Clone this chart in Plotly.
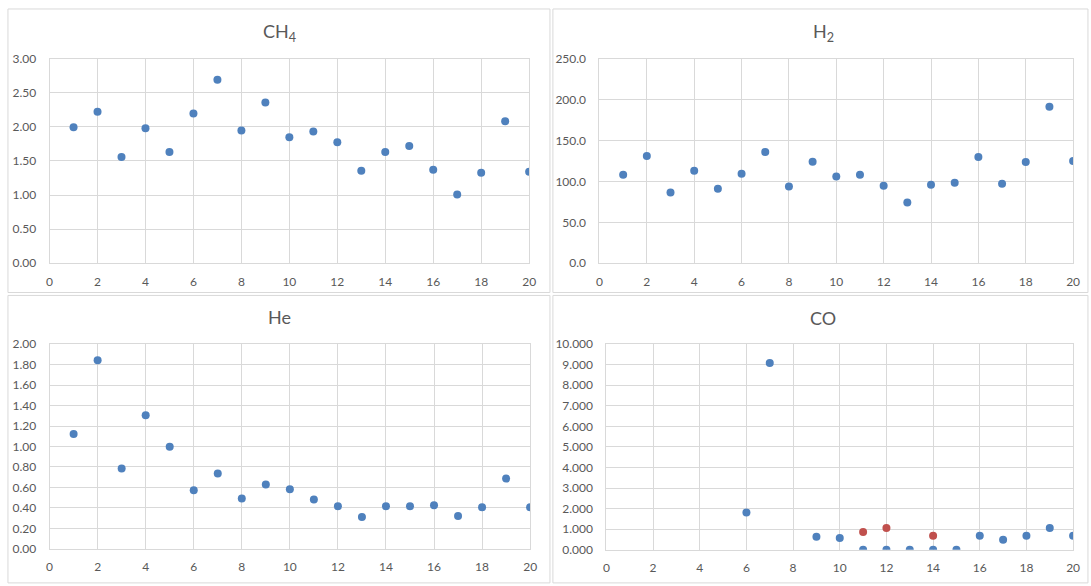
import plotly.graph_objects as go

W, H = 1091, 586

x_vals = list(range(1, 21))

ch4 = [1.995, 2.22, 1.557, 1.98, 1.633, 2.195, 2.69, 1.948, 2.357, 1.848,
       1.933, 1.776, 1.357, 1.633, 1.719, 1.371, 1.01, 1.329, 2.081, 1.343]
h2 = [108.3, 131.0, 86.5, 113.0, 91.0, 109.5, 136.0, 93.7, 124.0, 106.0,
      108.3, 94.8, 74.2, 96.0, 98.4, 129.8, 97.2, 123.8, 191.3, 125.0]
he = [1.121, 1.844, 0.784, 1.305, 0.997, 0.571, 0.737, 0.492, 0.629, 0.581,
      0.483, 0.416, 0.311, 0.416, 0.416, 0.425, 0.321, 0.406, 0.686, 0.406]
co_x = [6, 7, 9, 10, 11, 12, 13, 14, 15, 16, 17, 18, 19, 20]
co = [1.817, 9.08, 0.632, 0.569, 0.0, 0.0, 0.0, 0.0, 0.0, 0.679, 0.49, 0.679, 1.058, 0.679]
co2_x = [11, 12, 14]
co2 = [0.869, 1.058, 0.679]

titles = ["CH<sub>4</sub>", "H<sub>2</sub>", "He", "CO"]
x_ticks = list(range(0, 21, 2))

BLUE = "#4F81BD"
RED = "#C0504D"
GRID = "#D9D9D9"
TXT = "#595959"
FONT = "Lato"


def px_x(p):
    return p / W


def px_y(p):
    return 1 - p / H


fig = go.Figure()

series = [
    (x_vals, ch4, BLUE, "x", "y"),
    (x_vals, h2, BLUE, "x2", "y2"),
    (x_vals, he, BLUE, "x3", "y3"),
    (co_x, co, BLUE, "x4", "y4"),
    (co2_x, co2, RED, "x4", "y4"),
]
for xs, ys, col, xa, ya in series:
    fig.add_trace(go.Scatter(x=xs, y=ys, mode="markers", xaxis=xa, yaxis=ya,
                             marker=dict(color=col, size=8), showlegend=False))

# plot areas (pixels): left, right, top, bottom
areas = [
    (47, 531, 52, 262),
    (602, 1080, 52, 262),
    (47, 532, 345, 555),
    (609, 1080, 345, 556),
]
yranges = [(0, 3), (0, 250), (0, 2), (0, 10)]
ydtick = [0.5, 50, 0.2, 1]
yfmt = [".2f", ".1f", ".2f", ".3f"]

layout = dict(
    width=W, height=H,
    margin=dict(l=0, r=0, t=0, b=0),
    paper_bgcolor="white", plot_bgcolor="white",
    font=dict(family=FONT, size=12, color=TXT),
    showlegend=False,
)

for i, (l, r, t, b) in enumerate(areas):
    sx = "" if i == 0 else str(i + 1)
    layout["xaxis" + sx] = dict(
        domain=[px_x(l), px_x(r)], anchor="y" + sx, range=[0, 20],
        tickvals=x_ticks, showgrid=True, gridcolor=GRID, gridwidth=1,
        zeroline=False, showline=True, linecolor=GRID, mirror=True,
        ticks="", tickfont=dict(size=12, color=TXT), ticklabelstandoff=7,
        fixedrange=True,
    )
    layout["yaxis" + sx] = dict(
        domain=[px_y(b), px_y(t)], anchor="x" + sx, range=list(yranges[i]),
        dtick=ydtick[i], tick0=0, tickformat=yfmt[i], showgrid=True,
        gridcolor=GRID, gridwidth=1, zeroline=False, showline=True,
        linecolor=GRID, mirror=True, ticks="",
        tickfont=dict(size=12, color=TXT), ticklabelstandoff=10,
        fixedrange=True,
    )

fig.update_layout(**layout)

# chart box borders
boxes = [(5, 1, 552, 292), (555, 1, 1095, 292), (5, 295, 552, 590), (555, 295, 1095, 590)]
for x0, y0, x1, y1 in boxes:
    fig.add_shape(type="rect", xref="paper", yref="paper",
                  x0=px_x(x0), x1=px_x(x1), y0=px_y(y1), y1=px_y(y0),
                  line=dict(color=GRID, width=1), fillcolor="rgba(0,0,0,0)",
                  layer="below")

# titles
title_pos = [(279, 25), (828, 25), (279, 317), (828, 318)]
for (tx, ty), txt in zip(title_pos, titles):
    fig.add_annotation(text=txt, xref="paper", yref="paper",
                       x=px_x(tx), y=px_y(ty), showarrow=False,
                       xanchor="center", yanchor="middle",
                       font=dict(family=FONT, size=18, color=TXT))

fig.write_html("out.html", include_plotlyjs=True)
